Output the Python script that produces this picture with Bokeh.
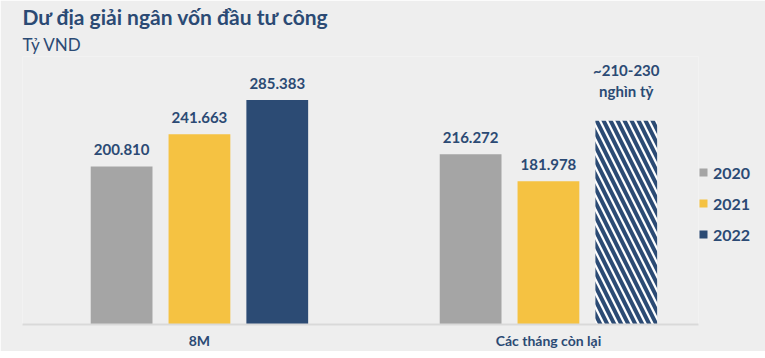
from bokeh.plotting import figure
from bokeh.models import ColumnDataSource, Range1d, Legend, LegendItem, Title, FixedTicker
from bokeh.transform import dodge
from bokeh.core.properties import value
from bokeh.embed import file_html
from bokeh.resources import INLINE

# ---- data ----
groups = ["8M", "Các tháng còn lại"]
v2020 = [200810, 216272]
v2021 = [241663, 181978]
v2022 = [285383]
groups_2022 = ["8M"]
est_group = ["Các tháng còn lại"]
est_height = [259000]
est_label = ["~210-230\nnghìn tỷ"]
years = ["2020", "2021", "2022"]

NAVY = "#2B4A74"
GRAY = "#A5A5A5"
YELLOW = "#F5C242"
BAR_NAVY = "#2C4B74"
BG = "#EEEEEE"
FONT = "Lato"

def fmt(v):
    return f"{v:,}".replace(",", ".")

gidx = {g: i for i, g in enumerate(groups)}

p = figure(frame_width=676, frame_height=268,
           x_range=Range1d(-0.507, 1.430), y_range=Range1d(0, 340600),
           output_backend="svg", toolbar_location=None,
           min_border_left=22, min_border_right=0, min_border_bottom=0, min_border_top=2)
p.background_fill_color = BG
p.border_fill_color = BG
p.outline_line_color = None
p.grid.visible = False
p.yaxis.visible = False

sub = Title(text="Tỷ VND", text_font=FONT, text_font_size="17px", text_font_style="normal",
            text_color=NAVY, align="left", standoff=4, offset=0)
main = Title(text="Dư địa giải ngân vốn đầu tư công", text_font=FONT, text_font_size="21px",
             text_font_style="bold", text_color=NAVY, align="left", standoff=2, offset=0)
p.add_layout(sub, "above")
p.add_layout(main, "above")

ax = p.xaxis[0]
ax.ticker = FixedTicker(ticks=list(range(len(groups))))
ax.major_label_overrides = {i: g for i, g in enumerate(groups)}
ax.axis_line_color = "#D9D9D9"
ax.axis_line_width = 2
ax.major_tick_line_color = None
ax.major_tick_out = 0
ax.major_tick_in = 0
ax.minor_tick_line_color = None
ax.major_label_text_font = FONT
ax.major_label_text_font_size = "14px"
ax.major_label_text_font_style = "bold"
ax.major_label_text_color = NAVY
ax.major_label_standoff = 7

off = 0.223
w = 0.177
def src(gs, vs, labels):
    return ColumnDataSource(dict(x=[gidx[g] for g in gs], v=vs, t=labels))

s20 = src(groups, v2020, [fmt(v) for v in v2020])
s21 = src(groups, v2021, [fmt(v) for v in v2021])
s22 = src(groups_2022, v2022, [fmt(v) for v in v2022])
sest = src(est_group, est_height, est_label)

r20 = p.vbar(x=dodge("x", -off), top="v", width=w, source=s20,
             fill_color=GRAY, line_color=None)
r21 = p.vbar(x=dodge("x", 0), top="v", width=w, source=s21,
             fill_color=YELLOW, line_color=None)
r22 = p.vbar(x=dodge("x", off), top="v", width=w, source=s22,
             fill_color=BAR_NAVY, line_color=None)
p.vbar(x=dodge("x", off), top="v", width=w, source=sest,
       fill_color="white", line_color=None, hatch_pattern="left_diagonal_line",
       hatch_color=BAR_NAVY, hatch_weight=4, hatch_scale=14)

for s, o in [(s20, -off), (s21, 0), (s22, off)]:
    p.text(x=dodge("x", o), y="v", text="t", source=s,
           text_align="center", text_baseline="bottom", y_offset=-11,
           text_font=value(FONT), text_font_size="15px", text_font_style="bold",
           text_color=NAVY)
p.text(x=dodge("x", off), y="v", text="t", source=sest,
       text_align="center", text_baseline="bottom", y_offset=-21, text_line_height=1.15,
       text_font=value(FONT), text_font_size="15px", text_font_style="bold",
       text_color=NAVY)

legend = Legend(items=[LegendItem(label=years[0], renderers=[r20]),
                       LegendItem(label=years[1], renderers=[r21]),
                       LegendItem(label=years[2], renderers=[r22])],
                location=(0, 80), orientation="vertical",
                glyph_width=10, glyph_height=10, label_height=20, spacing=11,
                padding=0, margin=0, border_line_color=None, background_fill_alpha=0,
                label_text_font=FONT, label_text_font_size="16px",
                label_text_font_style="bold", label_text_color=NAVY, label_standoff=5)
p.add_layout(legend, "right")

html = file_html(p, INLINE)
html = html.replace("<body", '<body style="background-color:#EEEEEE"', 1)
open("out.html", "w").write(html)
